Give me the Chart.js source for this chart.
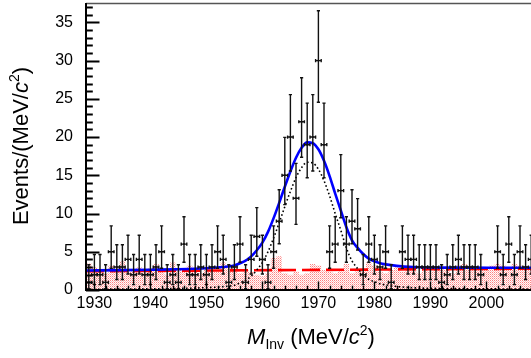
<!DOCTYPE html>
<html><head><meta charset="utf-8">
<script src="https://cdn.jsdelivr.net/npm/chart.js@4.4.1/dist/chart.umd.min.js"></script>
<style>
html,body{margin:0;padding:0;background:#fff;overflow:hidden;width:531px;height:358px;}
#wrap{position:relative;width:540px;height:358px;}
canvas{display:block;}
</style></head><body>
<div id="wrap"><canvas id="c" width="540" height="358"></canvas></div>
<script>
// Invariant-mass histogram: 1 MeV bins starting at 1928.5 MeV/c^2
const binStart = 1928.5;
const binWidth = 1;
const counts = [1,2,2,1,5,3,3,4,2,4, 2,2,3,5,1,2,1,6,2,2, 3,2,3,5,4,1,3,6,1,4,
                7,4,1,5,9,15,20,12,22,19, 20,30,19,5,6,13,6,9,8,2, 6,4,3,5,1,0,5,4,4,3,
                3,3,3,1,2,3,4,3,3,3, 2,0,0,5,2,6,2,5,3,4];

// 68.27% Poisson (Garwood) interval limits, indexed by bin count
const poissonLo = [0,0.173,0.708,1.367,2.086,2.840,3.620,4.419,5.232,6.057,6.891,7.734,8.585,9.441,10.30,
                   11.17,12.04,12.92,13.80,14.68,15.57,16.45,17.35,18.24,19.14,20.03,20.93,21.84,22.74,23.65,24.56];
const poissonHi = [1.841,3.300,4.638,5.918,7.163,8.382,9.584,10.77,11.95,13.11,14.27,15.42,16.56,17.70,18.83,
                   19.96,21.08,22.20,23.32,24.44,25.55,26.66,27.76,28.87,29.97,31.06,32.16,33.25,34.34,35.43,36.52];

// Sideband (background) histogram, same binning
const sideband = [3.5,3.0,2.6,2.2,3.2,2.8,3.8,2.4,2.6,3.0, 2.2,2.8,3.4,2.4,2.0,3.6,2.6,2.4,3.2,2.8,
                  2.2,3.0,2.6,2.4,3.6,2.8,3.0,2.2,2.6,2.4, 2.0,1.8,2.2,4.2,4.4,2.2,2.0,2.4,2.0,2.2,
                  3.4,3.2,2.6,2.4,2.2,2.6,3.4,2.2,2.6,2.8, 3.6,3.2,2.4,2.2,2.6,3.0,2.4,2.6,2.8,2.2,
                  2.6,2.4,2.8,3.0,2.6,2.2,3.2,3.4,3.0,2.6, 2.8,3.0,3.2,3.4,3.2,3.0,3.4,3.2,3.0,2.8];

// Fit curves
const curveX   = [1928.5,1935,1940,1945,1950,1953,1955,1956,1957,1958,1959,1960,1961,1962,1963,1964,1965,1966,1967,1968,
                  1969,1970,1971,1972,1973,1974,1975,1976,1977,1978,1979,1980,1981,1982,1984,1987,1992,1997,2002,2008.5];
const signalY  = [0.10,0.12,0.15,0.20,0.31,0.44,0.63,0.93,1.28,1.82,2.62,3.61,5.0,6.8,8.8,10.9,12.9,14.7,16.0,16.7,
                  16.6,15.8,14.3,12.3,10.0,7.8,5.5,3.8,2.8,2.0,1.4,1.08,0.82,0.67,0.46,0.29,0.20,0.17,0.14,0.10];
const totalY   = [2.55,2.60,2.65,2.72,2.85,3.0,3.2,3.5,3.85,4.4,5.2,6.2,7.6,9.4,11.4,13.5,15.5,17.3,18.6,19.3,
                  19.2,18.4,16.9,14.9,12.6,10.4,8.2,6.5,5.5,4.7,4.1,3.75,3.5,3.35,3.15,3.0,2.93,2.92,2.91,2.90];
const bkgLineX = [1928.5, 2008.5];
const bkgLineY = [2.45, 2.80];

// Axis ticks
const xTickValues = [1930, 1940, 1950, 1960, 1970, 1980, 1990, 2000];
const yTickValues = [0, 5, 10, 15, 20, 25, 30, 35];

const xMin = 1928.5, xMax = 2008.5, yMin = 0, yMax = 37.4;
const xMajor = 10, xMinor = 2, yMajor = 5, yMinor = 1;

const FONT = "'Liberation Sans', Arial, Helvetica, sans-serif";

const binCenter = i => binStart + (i + 0.5) * binWidth;
const pts = (xs, ys) => xs.map((x, i) => ({x, y: ys[i]}));

// histogram outline for the sideband fill
const sidebandPts = [];
sideband.forEach((h, i) => {
  const c = binCenter(i);
  sidebandPts.push({x: c - binWidth / 2, y: h}, {x: c + binWidth / 2, y: h});
});

function stipple() {
  const t = document.createElement('canvas');
  t.width = 2; t.height = 2;
  const g = t.getContext('2d');
  g.fillStyle = 'rgb(255,250,250)'; g.fillRect(0, 0, 2, 2);
  g.fillStyle = 'rgb(252,130,130)'; g.fillRect(0, 0, 1, 1);
  g.fillStyle = 'rgb(255,190,190)'; g.fillRect(1, 1, 1, 1);
  return g.createPattern(t, 'repeat');
}

// Error bars with caps, ROOT "E1" style
const errorBars = {
  id: 'errorBars',
  afterDatasetsDraw(chart) {
    const {ctx, chartArea: a, scales: {x, y}} = chart;
    ctx.save();
    ctx.beginPath(); ctx.rect(a.left, a.top, a.right - a.left, a.bottom - a.top); ctx.clip();
    ctx.strokeStyle = '#111'; ctx.lineWidth = 1.4;
    const cap = 1.6;
    counts.forEach((n, i) => {
      if (n <= 0) return;
      const c = binCenter(i);
      const px = x.getPixelForValue(c), py = y.getPixelForValue(n);
      const x0 = x.getPixelForValue(c - binWidth / 2), x1 = x.getPixelForValue(c + binWidth / 2);
      const yl = y.getPixelForValue(poissonLo[n]), yh = y.getPixelForValue(poissonHi[n]);
      ctx.beginPath();
      ctx.moveTo(px, yl); ctx.lineTo(px, yh);
      ctx.moveTo(px - cap, yl); ctx.lineTo(px + cap, yl);
      ctx.moveTo(px - cap, yh); ctx.lineTo(px + cap, yh);
      ctx.moveTo(x0, py); ctx.lineTo(x1, py);
      ctx.moveTo(x0, py - cap); ctx.lineTo(x0, py + cap);
      ctx.moveTo(x1, py - cap); ctx.lineTo(x1, py + cap);
      ctx.stroke();
    });
    ctx.restore();
  }
};

// Frame, inward tick marks and axis titles
const frame = {
  id: 'frame',
  afterDraw(chart) {
    const {ctx, chartArea: a, scales: {x, y}} = chart;
    ctx.save();
    ctx.strokeStyle = '#555'; ctx.lineWidth = 1.6;
    ctx.beginPath(); ctx.moveTo(a.left, a.top - 0.5); ctx.lineTo(a.right, a.top - 0.5); ctx.stroke();
    ctx.strokeStyle = '#000'; ctx.lineWidth = 2;
    ctx.beginPath();
    ctx.moveTo(a.left, a.top - 1); ctx.lineTo(a.left, a.bottom + 1);
    ctx.moveTo(a.left - 1, a.bottom); ctx.lineTo(a.right, a.bottom);
    ctx.stroke();
    // y ticks
    ctx.lineWidth = 1.8;
    ctx.beginPath();
    for (let v = yMin; v <= yMax + 1e-9; v += yMinor) {
      const py = Math.round(y.getPixelForValue(v)) + 0.5;
      const len = (Math.round(v) % yMajor === 0) ? 13.5 : 6.8;
      ctx.moveTo(a.left, py); ctx.lineTo(a.left + len, py);
    }
    ctx.stroke();
    // x ticks
    ctx.lineWidth = 1.4;
    ctx.beginPath();
    for (let v = Math.ceil(xMin / xMinor) * xMinor; v <= xMax; v += xMinor) {
      const px = Math.round(x.getPixelForValue(v)) + 0.5;
      const len = (v % xMajor === 0) ? 8.6 : 4.3;
      ctx.moveTo(px, a.bottom); ctx.lineTo(px, a.bottom - len);
    }
    ctx.stroke();

    // rich-text titles
    const drawRich = (parts, cx, base) => {
      let w = 0;
      parts.forEach(p => { ctx.font = p.f; p.w = ctx.measureText(p.t).width; w += p.w; });
      let cur = cx - w / 2;
      ctx.textBaseline = 'alphabetic'; ctx.textAlign = 'left'; ctx.fillStyle = '#000';
      parts.forEach(p => { ctx.font = p.f; ctx.fillText(p.t, cur, base + (p.dy || 0)); cur += p.w; });
    };
    const S = 22, s = 14;
    const N = `${S}px ${FONT}`, I = `italic ${S}px ${FONT}`, SM = `${s}px ${FONT}`;
    drawRich([
      {t: 'M', f: I}, {t: 'Inv', f: SM, dy: 5}, {t: ' (MeV/', f: N}, {t: 'c', f: I},
      {t: '2', f: SM, dy: -9}, {t: ')', f: N}
    ], 311, 344);
    ctx.save();
    ctx.translate(28, 146); ctx.rotate(-Math.PI / 2);
    drawRich([
      {t: 'Events/(MeV/', f: N}, {t: 'c', f: I}, {t: '2', f: SM, dy: -9}, {t: ')', f: N}
    ], 0, 0);
    ctx.restore();
    ctx.restore();
  }
};

const tickFont = {family: FONT, size: 16};

new Chart(document.getElementById('c'), {
  type: 'line',
  data: {
    datasets: [
      {label: 'sideband', data: sidebandPts, borderWidth: 0, pointRadius: 0, fill: 'origin',
       backgroundColor: stipple(), tension: 0, order: 5},
      {label: 'background', data: pts(bkgLineX, bkgLineY), borderColor: 'rgb(255,0,0)', borderWidth: 2.6,
       borderDash: [18, 6], pointRadius: 0, fill: false, order: 4},
      {label: 'signal', data: pts(curveX, signalY), borderColor: '#000', borderWidth: 1.6,
       borderDash: [1.6, 2.4], pointRadius: 0, fill: false, cubicInterpolationMode: 'monotone', order: 3},
      {label: 'fit', data: pts(curveX, totalY), borderColor: 'rgb(0,0,255)', borderWidth: 2.6,
       pointRadius: 0, fill: false, cubicInterpolationMode: 'monotone', order: 2},
      {label: 'data', type: 'scatter', data: counts.map((n, i) => ({x: binCenter(i), y: n})).filter(p => p.y > 0),
       pointRadius: 1, pointBackgroundColor: '#000', pointBorderWidth: 0, showLine: false, order: 1}
    ]
  },
  options: {
    responsive: false, animation: false, devicePixelRatio: 1,
    layout: {padding: {top: 3, right: 6, left: 0, bottom: 0}},
    plugins: {legend: {display: false}, tooltip: {enabled: false}},
    scales: {
      x: {
        type: 'linear', min: xMin, max: xMax,
        afterBuildTicks(s) { s.ticks = xTickValues.map(v => ({value: v})); },
        afterFit(s) { s.height = 68; s.paddingLeft = 0; s.paddingRight = 0; },
        grid: {display: false, drawTicks: false}, border: {display: false},
        ticks: {padding: 4, color: '#000', font: tickFont, maxRotation: 0, autoSkip: false,
                callback: v => String(v)}
      },
      y: {
        type: 'linear', min: yMin, max: yMax,
        afterBuildTicks(s) { s.ticks = yTickValues.map(v => ({value: v})); },
        afterFit(s) { s.width = 86; s.paddingTop = 0; s.paddingBottom = 0; },
        grid: {display: false, drawTicks: false}, border: {display: false},
        ticks: {padding: 13, color: '#000', font: tickFont, autoSkip: false, callback: v => String(v)}
      }
    }
  },
  plugins: [errorBars, frame]
});
</script>
</body></html>
